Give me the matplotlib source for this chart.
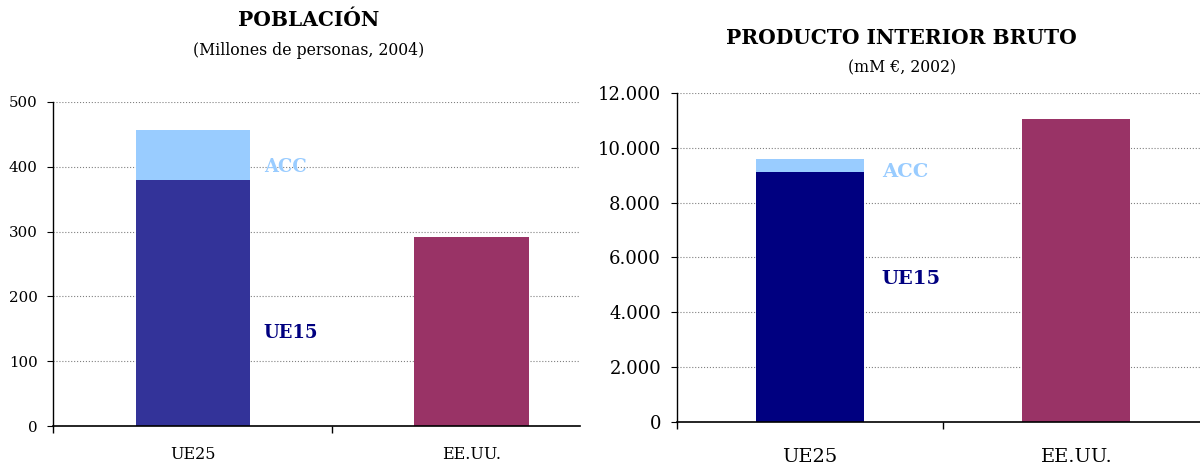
import matplotlib.pyplot as plt
from matplotlib.ticker import FuncFormatter

plt.rcParams['font.family'] = ['DejaVu Serif']

categories = ['UE25', 'EE.UU.']

# Poblacion (millones de personas, 2004)
pop_ue15 = [379, 0]
pop_acc = [77, 0]
pop_usa = [0, 292]

# PIB (mM euros, 2002)
gdp_ue15 = [9130, 0]
gdp_acc = [470, 0]
gdp_usa = [0, 11055]

light = '#99CCFF'
wine = '#993366'
navy = '#000080'

fig = plt.figure(figsize=(12, 4.65), dpi=100)
ax1 = fig.add_axes([0.0444, 0.0832, 0.439, 0.698])
ax2 = fig.add_axes([0.564, 0.0925, 0.436, 0.708])


def style_axis(ax, ymax, step, xmax, yfs, xfs, pad):
    ax.set_ylim(0, ymax)
    ax.set_yticks(range(0, ymax + 1, step))
    ax.yaxis.set_major_formatter(FuncFormatter(lambda v, p: f'{int(v):,}'.replace(',', '.')))
    ax.set_xticks([0, 1])
    ax.set_xticklabels(categories)
    ax.set_xticks([-0.5, 0.5, 1.5], minor=True)
    ax.set_xlim(-0.5, xmax)
    ax.tick_params(axis='x', which='major', length=0, pad=pad, labelsize=xfs)
    ax.tick_params(axis='x', which='minor', length=5, direction='out', width=1)
    ax.tick_params(axis='y', length=4.3, direction='out', labelsize=yfs, pad=7)
    ax.grid(axis='y', color='#808080', linestyle=':', linewidth=0.8)
    ax.set_axisbelow(True)
    for s in ['top', 'right']:
        ax.spines[s].set_visible(False)
    ax.spines['left'].set_linewidth(1)
    ax.spines['bottom'].set_linewidth(1.2)


x = range(len(categories))

# left panel
ax1.bar(x, pop_ue15, width=0.41, color='#333399')
ax1.bar(x, pop_acc, width=0.41, bottom=pop_ue15, color=light)
ax1.bar(x, pop_usa, width=0.41, color=wine)
style_axis(ax1, 500, 100, 1.389, 10.8, 11.5, 14.5)
ax1.text(0.255, 399, 'ACC', color=light, fontsize=13, fontweight='bold', va='center')
ax1.text(0.255, 144, 'UE15', color=navy, fontsize=13, fontweight='bold', va='center')
fig.text(0.2575, 0.958, 'POBLACIÓN', ha='center', va='center', fontsize=14.5, fontweight='bold')
fig.text(0.2575, 0.891, '(Millones de personas, 2004)', ha='center', va='center', fontsize=11.3)

# right panel
ax2.bar(x, gdp_ue15, width=0.405, color=navy)
ax2.bar(x, gdp_acc, width=0.405, bottom=gdp_ue15, color=light)
ax2.bar(x, gdp_usa, width=0.405, color=wine)
style_axis(ax2, 12000, 2000, 1.464, 13, 14, 19)
ax2.text(0.269, 9100, 'ACC', color=light, fontsize=14, fontweight='bold', va='center')
ax2.text(0.269, 5200, 'UE15', color=navy, fontsize=14, fontweight='bold', va='center')
fig.text(0.7515, 0.918, 'PRODUCTO INTERIOR BRUTO', ha='center', va='center', fontsize=14.5, fontweight='bold')
fig.text(0.7515, 0.854, '(mM €, 2002)', ha='center', va='center', fontsize=11.3)

fig.savefig('out.png', dpi=100)
